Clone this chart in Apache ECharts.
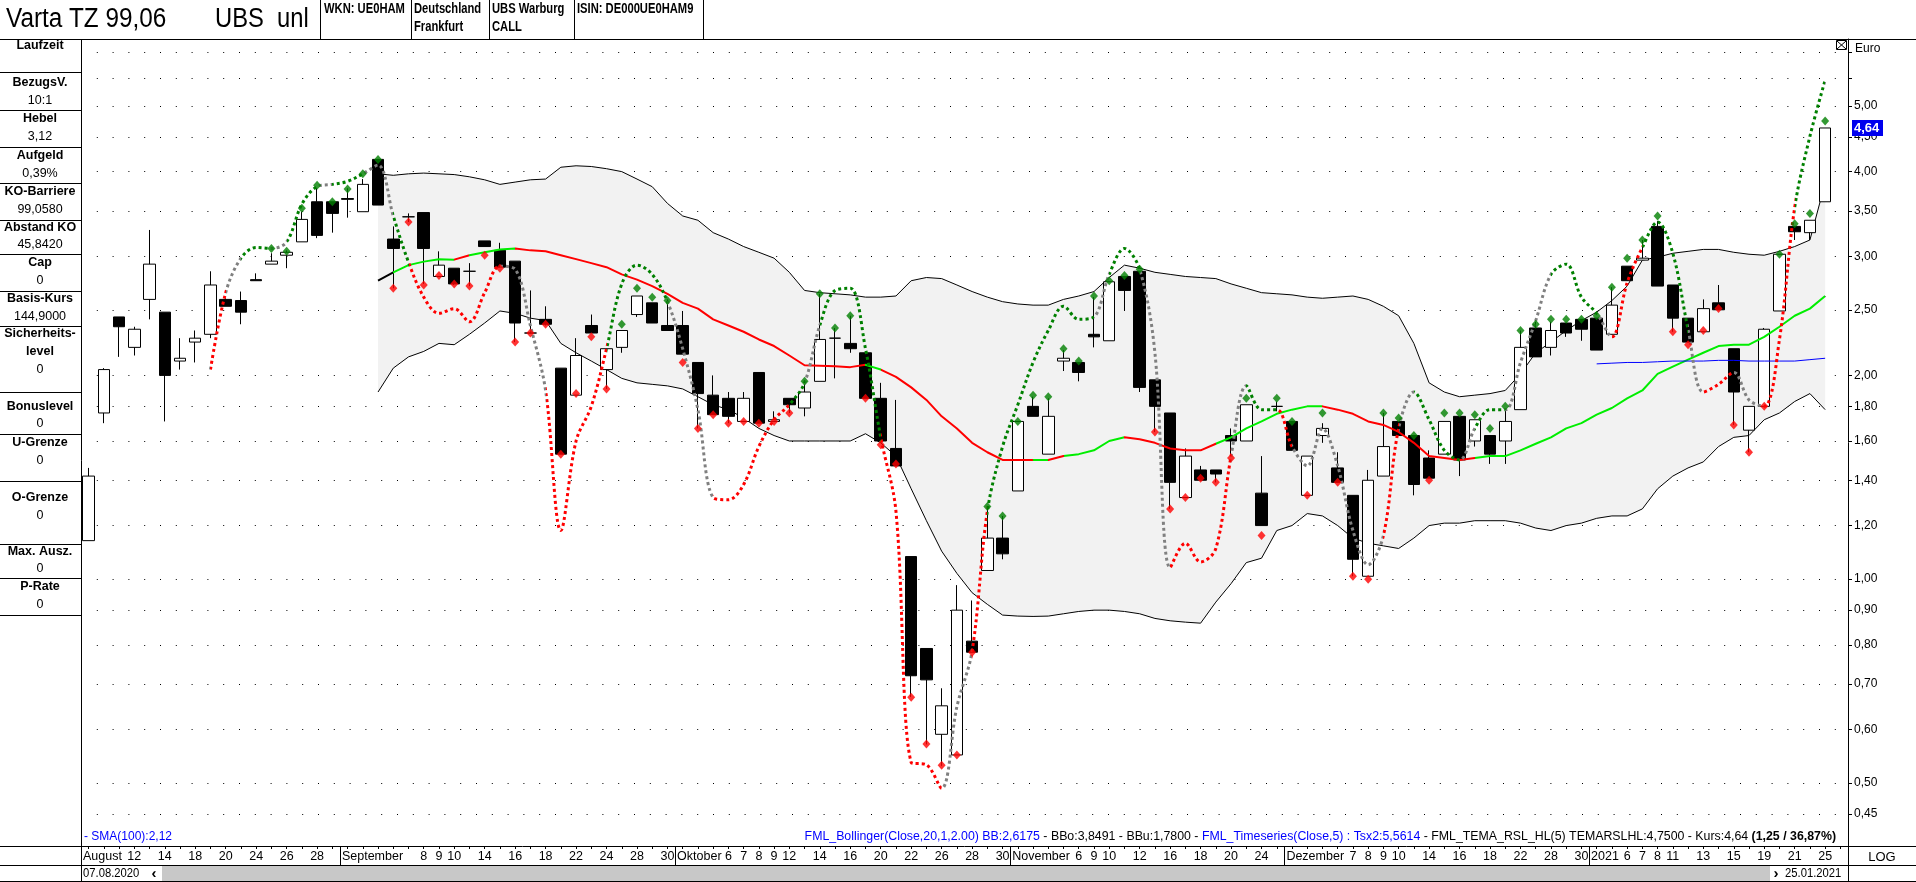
<!DOCTYPE html>
<html><head><meta charset="utf-8">
<script src="https://cdn.jsdelivr.net/npm/echarts@6/dist/echarts.min.js"></script>
<style>html,body{margin:0;padding:0;background:#fff;overflow:hidden}#c{width:1916px;height:882px}</style>
</head><body><div id="c"></div>
<script>
// ---------------- DATA ----------------
const dates = [
'2020-08-07','2020-08-10','2020-08-11','2020-08-12','2020-08-13','2020-08-14','2020-08-17','2020-08-18','2020-08-19','2020-08-20','2020-08-21','2020-08-24','2020-08-25','2020-08-26','2020-08-27','2020-08-28','2020-08-31',
'2020-09-01','2020-09-02','2020-09-03','2020-09-04','2020-09-07','2020-09-08','2020-09-09','2020-09-10','2020-09-11','2020-09-14','2020-09-15','2020-09-16','2020-09-17','2020-09-18','2020-09-21','2020-09-22','2020-09-23','2020-09-24','2020-09-25','2020-09-28','2020-09-29','2020-09-30',
'2020-10-01','2020-10-02','2020-10-05','2020-10-06','2020-10-07','2020-10-08','2020-10-09','2020-10-12','2020-10-13','2020-10-14','2020-10-15','2020-10-16','2020-10-19','2020-10-20','2020-10-21','2020-10-22','2020-10-23','2020-10-26','2020-10-27','2020-10-28','2020-10-29','2020-10-30',
'2020-11-02','2020-11-03','2020-11-04','2020-11-05','2020-11-06','2020-11-09','2020-11-10','2020-11-11','2020-11-12','2020-11-13','2020-11-16','2020-11-17','2020-11-18','2020-11-19','2020-11-20','2020-11-23','2020-11-24','2020-11-25',
'2020-12-01','2020-12-02','2020-12-03','2020-12-04','2020-12-07','2020-12-08','2020-12-09','2020-12-10','2020-12-11','2020-12-14','2020-12-15','2020-12-16','2020-12-17','2020-12-18','2020-12-21','2020-12-22','2020-12-23','2020-12-28','2020-12-29','2020-12-30',
'2021-01-04','2021-01-05','2021-01-06','2021-01-07','2021-01-08','2021-01-11','2021-01-12','2021-01-13','2021-01-14','2021-01-15','2021-01-18','2021-01-19','2021-01-20','2021-01-21','2021-01-22','2021-01-25'];

const open = [1.14,1.76,2.44,2.20,2.59,2.48,2.10,2.24,2.30,2.59,2.58,2.77,2.92,3.01,3.15,3.61,3.61,
3.65,3.49,4.17,3.18,3.43,3.48,2.80,2.88,2.85,3.16,3.06,2.95,2.31,2.42,2.05,1.87,2.37,2.04,2.20,2.46,2.56,2.37,
2.37,2.09,1.87,1.85,1.71,2.02,1.71,1.85,1.79,1.96,2.27,2.23,2.16,1.85,1.56,1.08,0.79,0.59,0.55,0.81,1.03,1.15,
1.35,1.80,1.53,2.10,2.09,2.30,2.25,2.80,2.85,1.97,1.76,1.32,1.45,1.45,1.63,1.60,1.34,1.80,
1.71,1.33,1.63,1.46,1.33,1.01,1.42,1.71,1.63,1.51,1.53,1.74,1.60,1.63,1.60,1.78,2.35,2.20,2.39,2.42,
2.43,2.30,2.90,2.96,3.32,2.72,2.43,2.32,2.56,2.19,1.66,1.80,2.49,3.32,3.25,3.61];
const close = [1.42,2.04,2.36,2.34,2.92,2.00,2.12,2.27,2.72,2.53,2.48,2.76,2.95,3.04,3.40,3.22,3.47,
3.64,3.83,3.57,3.08,3.43,3.08,2.91,2.73,2.85,3.10,2.89,2.39,2.31,2.38,1.53,2.14,2.31,2.19,2.33,2.62,2.39,2.33,
2.15,1.88,1.75,1.74,1.85,1.70,1.72,1.81,1.89,2.26,2.27,2.19,1.85,1.60,1.47,0.72,0.71,0.65,0.90,0.78,1.15,1.09,
1.71,1.74,1.74,2.12,2.02,2.28,2.75,2.67,1.92,1.80,1.39,1.52,1.40,1.43,1.60,1.81,1.20,1.80,
1.55,1.52,1.67,1.39,1.07,1.40,1.57,1.63,1.38,1.41,1.71,1.50,1.72,1.53,1.71,2.20,2.13,2.33,2.31,2.34,
2.18,2.54,2.76,2.98,2.71,2.43,2.24,2.51,2.50,1.89,1.80,2.34,3.02,3.26,3.39,4.64];
const low = [1.14,1.70,2.13,2.14,2.42,1.71,2.04,2.09,2.27,2.53,2.38,2.76,2.92,2.88,3.15,3.19,3.25,
3.42,3.49,3.57,2.69,3.37,2.73,2.80,2.72,2.71,3.10,2.89,2.24,2.31,2.37,1.53,1.87,2.31,1.91,2.16,2.44,2.39,2.33,
2.15,1.67,1.75,1.70,1.71,1.70,1.71,1.76,1.74,1.96,1.98,2.16,1.85,1.60,1.47,0.67,0.57,0.53,0.55,0.78,1.03,1.07,
1.35,1.74,1.53,2.03,1.96,2.20,2.25,2.49,1.89,1.65,1.27,1.32,1.40,1.39,1.52,1.60,1.20,1.77,
1.55,1.33,1.59,1.39,1.01,1.01,1.42,1.63,1.33,1.41,1.53,1.42,1.57,1.48,1.48,1.78,2.13,2.14,2.28,2.25,
2.18,2.30,2.76,2.96,2.71,2.32,2.24,2.32,2.50,1.69,1.54,1.80,2.49,3.17,3.17,3.61];
const high = [1.46,2.05,2.44,2.36,3.28,2.48,2.27,2.33,2.85,2.60,2.66,2.83,3.03,3.06,3.49,3.78,3.61,
3.78,3.90,4.17,3.32,3.47,3.48,3.05,2.88,2.93,3.16,3.14,2.95,2.67,2.53,2.05,2.27,2.46,2.19,2.33,2.62,2.56,2.59,
2.49,2.09,2.00,1.89,1.89,2.02,1.77,1.85,1.94,2.64,2.35,2.45,2.16,1.95,1.84,1.08,0.79,0.69,0.98,0.93,1.28,1.24,
1.71,1.86,1.85,2.18,2.09,2.61,2.75,2.80,2.85,1.97,1.76,1.56,1.47,1.45,1.67,1.81,1.52,1.83,
1.71,1.52,1.70,1.54,1.33,1.45,1.76,1.71,1.63,1.55,1.71,1.74,1.72,1.63,1.78,2.33,2.40,2.40,2.39,2.42,
2.43,2.70,2.90,3.17,3.38,2.72,2.43,2.59,2.72,2.19,1.80,2.35,3.02,3.32,3.39,4.64];

// Bollinger (20, 2) from 2020-09-03 on (index 19)
const bbStart = 19;
const bbUpper = [3.97,3.95,3.97,3.98,3.97,3.96,3.93,3.89,3.83,3.86,3.89,3.90,4.06,4.08,4.07,4.04,4.00,3.90,3.80,3.59,
3.44,3.39,3.25,3.18,3.10,3.04,2.98,2.84,2.67,2.65,2.64,2.63,2.61,2.61,2.62,2.76,2.79,2.78,2.72,2.66,2.61,2.57,
2.55,2.54,2.54,2.59,2.62,2.66,2.79,2.91,2.88,2.84,2.82,2.80,2.79,2.78,2.73,2.69,2.65,2.64,
2.63,2.61,2.60,2.61,2.62,2.59,2.53,2.45,2.23,1.95,1.89,1.86,1.87,1.88,1.90,2.01,2.16,2.24,2.33,2.41,
2.48,2.58,2.71,2.96,2.99,3.03,3.05,3.07,3.07,3.04,3.02,3.01,3.05,3.10,3.17,3.85];
const bbLower = [1.89,2.05,2.13,2.17,2.23,2.22,2.30,2.39,2.49,2.47,2.43,2.41,2.23,2.16,2.10,2.04,1.98,1.95,1.94,1.93,
1.91,1.86,1.81,1.78,1.73,1.67,1.63,1.60,1.60,1.60,1.60,1.60,1.64,1.59,1.52,1.36,1.22,1.10,1.02,0.955,0.918,0.885,
0.882,0.881,0.882,0.889,0.896,0.90,0.90,0.896,0.889,0.875,0.868,0.864,0.861,0.925,0.985,1.058,1.074,1.18,
1.20,1.25,1.24,1.20,1.15,1.13,1.12,1.11,1.15,1.20,1.21,1.21,1.22,1.22,1.22,1.21,1.19,1.18,1.20,1.21,
1.23,1.24,1.24,1.27,1.36,1.42,1.46,1.49,1.57,1.62,1.63,1.72,1.76,1.83,1.88,1.78];
const bbMid = [2.76,2.84,2.91,2.945,2.97,2.965,3.01,3.04,3.07,3.08,3.06,3.05,3.01,2.97,2.93,2.89,2.82,2.77,2.71,2.64,
2.56,2.51,2.42,2.37,2.32,2.26,2.21,2.14,2.07,2.067,2.063,2.057,2.073,2.04,1.99,1.92,1.84,1.74,1.67,1.59,1.54,1.50,
1.50,1.50,1.50,1.52,1.53,1.55,1.60,1.62,1.61,1.59,1.56,1.55,1.55,1.585,1.62,1.67,1.71,1.755,
1.78,1.80,1.80,1.78,1.755,1.71,1.69,1.65,1.59,1.52,1.51,1.50,1.51,1.52,1.52,1.55,1.585,1.62,1.67,1.70,
1.75,1.79,1.85,1.90,2.01,2.06,2.11,2.16,2.21,2.22,2.22,2.28,2.36,2.45,2.51,2.62];
// trend state of the middle line segment ending at each point (1 up, -1 down, 0 neutral)
const bbMidTrend = [0,0,1,1,1,1,-1,1,1,1,-1,-1,-1,-1,-1,-1,-1,-1,-1,-1,
-1,-1,-1,-1,-1,-1,-1,-1,-1,-1,-1,-1,-1,1,-1,-1,-1,-1,-1,-1,-1,-1,
-1,-1,1,-1,1,1,1,1,-1,-1,-1,-1,-1,-1,1,1,1,1,
1,1,1,-1,-1,-1,-1,-1,-1,-1,-1,-1,-1,1,1,1,1,1,1,1,
1,1,1,1,1,1,1,1,1,1,1,1,1,1,1,1];

// FML_Timeseries (TEMA) from 2020-08-19 on (index 8)
const temaStart = 8;
const tema = [2.04,2.65,2.98,3.09,3.08,3.15,3.58,3.80,3.83,
3.87,3.97,4.09,3.44,2.94,2.61,2.47,2.51,2.40,2.65,2.90,2.87,2.37,1.90,1.18,1.60,1.80,2.19,2.73,2.91,2.82,2.57,
2.19,1.78,1.32,1.31,1.38,1.57,1.72,1.81,1.95,2.37,2.67,2.69,2.19,1.62,1.26,0.536,0.532,0.491,0.648,0.783,1.26,1.57,
1.81,2.09,2.33,2.53,2.42,2.44,2.82,3.08,2.87,2.16,1.04,1.13,1.06,1.11,1.52,1.93,1.78,1.78,
1.57,1.47,1.67,1.47,1.18,1.05,1.16,1.67,1.89,1.72,1.55,1.50,1.67,1.78,1.78,2.09,2.41,2.82,2.92,2.61,
2.47,2.28,2.74,3.09,3.37,3.03,2.34,1.89,1.94,2.02,1.84,1.80,2.26,3.54,4.51,5.46];
const temaState = [0,-1,0,1,1,0,1,1,0,
1,1,0,0,1,-1,-1,-1,-1,-1,-1,0,0,0,-1,-1,-1,-1,1,1,1,1,
0,0,0,-1,-1,-1,-1,-1,1,0,1,1,1,1,-1,-1,-1,-1,0,0,-1,1,
1,1,1,1,1,1,0,1,1,0,0,-1,-1,-1,-1,0,1,1,
-1,0,0,0,0,0,0,-1,0,1,1,1,0,1,1,0,0,0,1,1,
1,0,-1,-1,1,1,1,0,-1,-1,0,0,-1,-1,1,1];

// TEMA_RSL_HL markers
const markUp = [null,null,null,null,null,null,null,null,null,null,null,null,3.08,3.05,3.53,3.82,3.61,
3.77,3.97,4.17,null,null,null,null,null,null,null,null,null,null,null,null,null,null,null,2.38,2.69,2.61,2.58,
null,null,null,null,null,null,null,null,1.96,2.64,2.35,2.45,null,null,null,null,null,null,null,null,1.28,1.24,
1.71,1.87,1.86,2.19,2.10,2.62,2.76,2.81,2.87,null,null,null,null,null,null,1.85,null,1.85,
1.71,null,1.76,null,null,null,1.76,1.73,1.63,null,1.76,1.76,1.75,1.67,1.80,2.33,2.38,2.42,2.42,2.42,
2.45,2.70,2.98,3.17,3.44,null,null,null,null,null,null,null,3.02,3.35,3.47,4.75];
const markDown = [null,null,null,null,null,null,null,null,null,null,null,null,null,null,null,null,null,
null,null,null,2.69,3.37,2.72,2.81,2.73,2.71,3.01,2.88,2.24,2.31,2.38,1.53,1.88,2.28,1.91,null,null,null,null,
2.09,1.67,1.75,1.70,1.71,1.70,1.71,1.76,null,null,null,null,1.85,1.58,1.48,0.669,0.571,0.531,0.55,0.78,null,null,
null,null,null,null,null,null,null,null,null,1.65,1.27,1.32,1.41,1.39,1.51,null,1.16,null,
null,1.33,null,1.39,1.01,1.00,null,null,null,1.40,null,null,null,null,null,null,null,null,null,null,
null,null,null,null,null,2.32,2.22,2.33,2.51,1.69,1.54,1.80,null,null,null,null];

// SMA(100) from 2021-01-04 (index 99)
const smaStart = 99;
const sma100 = [2.08,2.085,2.09,2.09,2.095,2.10,2.10,2.10,2.105,2.105,2.10,2.10,2.10,2.10,2.11,2.12];

// axis texts
const yTickValues = [5.00,4.50,4.00,3.50,3.00,2.50,2.00,1.80,1.60,1.40,1.20,1.00,0.90,0.80,0.70,0.60,0.50,0.45];
const yGridValues = [6.00,5.50].concat(yTickValues);
const dayLabelDates = ['2020-08-12','2020-08-14','2020-08-18','2020-08-20','2020-08-24','2020-08-26','2020-08-28',
'2020-09-08','2020-09-09','2020-09-10','2020-09-14','2020-09-16','2020-09-18','2020-09-22','2020-09-24','2020-09-28','2020-09-30',
'2020-10-06','2020-10-07','2020-10-08','2020-10-09','2020-10-12','2020-10-14','2020-10-16','2020-10-20','2020-10-22','2020-10-26','2020-10-28','2020-10-30',
'2020-11-06','2020-11-09','2020-11-10','2020-11-12','2020-11-16','2020-11-18','2020-11-20','2020-11-24',
'2020-12-07','2020-12-08','2020-12-09','2020-12-10','2020-12-14','2020-12-16','2020-12-18','2020-12-22','2020-12-28','2020-12-30',
'2021-01-06','2021-01-07','2021-01-08','2021-01-11','2021-01-13','2021-01-15','2021-01-19','2021-01-21','2021-01-25'];
const monthLabels = [['2020-08-07','August'],['2020-09-01','September'],['2020-10-01','Oktober'],['2020-11-02','November'],['2020-12-01','Dezember'],['2021-01-04','2021']];

const titleText = 'Varta TZ 99,06';
const issuerText = 'UBS  unl';
const headerCells = [['WKN: UE0HAM',''],['Deutschland','Frankfurt'],['UBS Warburg','CALL'],['ISIN: DE000UE0HAM9','']];
const infoRows = [['Laufzeit',''],['BezugsV.','10:1'],['Hebel','3,12'],['Aufgeld','0,39%'],['KO-Barriere','99,0580'],['Abstand KO','45,8420'],['Cap','0'],['Basis-Kurs','144,9000'],['Sicherheits-|level','0'],['Bonuslevel','0'],['U-Grenze','0'],['O-Grenze','0'],['Max. Ausz.','0'],['P-Rate','0']];
const legendLeft = '- SMA(100):2,12';
const legendParts = [['FML_Bollinger(Close,20,1,2.00) BB:2,6175','b'],[' - BBo:3,8491 - BBu:1,7800 - ','k'],['FML_Timeseries(Close,5) : Tsx2:5,5614','b'],[' - FML_TEMA_RSL_HL(5) TEMARSLHL:4,7500 - Kurs:4,64 ','k'],['(1,25 / 36,87%)','bd']];

// ---------------- BUILD ----------------
const SANS = '"Liberation Sans",Arial,sans-serif';
const N = dates.length;
function pad(start, arr){ const out = new Array(N).fill(null); arr.forEach((v,i)=>{ out[start+i]=v; }); return out; }

const lowerFull = pad(bbStart, bbLower);
const widthFull = pad(bbStart, bbUpper.map((u,i)=>+(u - bbLower[i]).toFixed(4)));
const midFull = pad(bbStart, bbMid);
const temaFull = pad(temaStart, tema);
const smaFull = pad(smaStart, sma100);
const candles = dates.map((d,i)=>[open[i], close[i], low[i], high[i]]);
const cats = dates.concat(['']);
const dayLabelSet = new Set(dayLabelDates);
const monthIdx = {};
monthLabels.forEach(([d,name])=>{ monthIdx[dates.indexOf(d)] = name; });
const boundaryCats = []; for (let i=0;i<=cats.length;i++) boundaryCats.push(String(i));

function buildPieces(states, start, colors){
  const out = [];
  for (let k=1;k<states.length;k++){
    const idx = start + k;
    const c = colors[String(states[k])];
    const last = out[out.length-1];
    if (last && last.color === c && last.lte === idx-1) last.lte = idx;
    else out.push({gt: idx-1, lte: idx, color: c});
  }
  return out;
}
const midPieces = buildPieces(bbMidTrend, bbStart, {'1':'#00ee00','-1':'#ff0000','0':'#000000'});
const temaPieces = buildPieces(temaState, temaStart, {'1':'#008000','-1':'#ff0000','0':'#808080'});
const fmt2 = v => v.toFixed(2).replace('.', ',');
const fmtDate = d => d.slice(8,10)+'.'+d.slice(5,7)+'.'+d.slice(0,4);

// ---------------- GRAPHIC (frame / panels) ----------------
const G = [];
function L(x1,y1,x2,y2,c){ G.push({type:'line', silent:true, z:50, shape:{x1,y1,x2,y2}, style:{stroke:c||'#000', lineWidth:1}}); }
function T(x,y,t,font,align,color,sx){ const el = {type:'text', silent:true, z:50, x, y, style:{text:t, font, fill:color||'#000', textAlign:align||'left', align:align||'left', textVerticalAlign:'middle', verticalAlign:'middle'}}; if (sx) { el.scaleX = sx; } G.push(el); return el; }

// header
L(0,39.5,1916,39.5);
T(6,20,titleText,'27px '+SANS,'left','#000',0.9);
T(215,20,issuerText,'27px '+SANS,'left','#000',0.88);
[320.5,411.5,489.5,574.5,703.5].forEach(x=>L(x,0,x,39.5));
const cellX = [324,414,492,577];
headerCells.forEach((c,i)=>{ T(cellX[i],9,c[0],'bold 14px '+SANS,'left','#000',0.8); if(c[1]) T(cellX[i],27,c[1],'bold 14px '+SANS,'left','#000',0.8); });

// left info panel
L(81.5,39.5,81.5,882);
const infoLayout = [[46,null,72],[83,101,110],[119,137,147],[156,174,183],[192,210,220],[228,245,254],[263,281,291],[299,317,326],[334,370,392],[407,424,434],[443,461,481],[498,516,544],[552,569,578],[587,605,615]];
infoRows.forEach((r,i)=>{
  const [ly, vy, lineY] = infoLayout[i];
  const parts = r[0].split('|');
  parts.forEach((p,k)=>T(40,ly+k*18,p,'bold 12.5px '+SANS,'center'));
  if (vy!==null) T(40,vy,r[1],'12.5px '+SANS,'center');
  L(0,lineY+0.5,81.5,lineY+0.5);
});

// right panel
L(1848.5,846,1848.5,882);
T(1855,49,'Euro','12px '+SANS);
G.push({type:'rect', silent:true, z:50, shape:{x:1836.5,y:40.5,width:10,height:9}, style:{fill:'#fff', stroke:'#000', lineWidth:1}});
L(1837,41,1846,49); L(1846,41,1837,49);
T(1882,857,'LOG','13px '+SANS,'center','#000');

// bottom
L(0,846.5,81.5,846.5); L(1848.5,846.5,1916,846.5);
L(0,865.5,1916,865.5);
L(0,881.5,1916,881.5);
G.push({type:'rect', silent:true, z:49, shape:{x:162,y:866,width:1608,height:15}, style:{fill:'#c8c8c8'}});
T(83,874,fmtDate(dates[0]),'12.5px '+SANS,'left','#000',0.9);
T(154,874,'\u2039','bold 15px '+SANS,'center');
T(1776,874,'\u203A','bold 15px '+SANS,'center');
T(1785,874,fmtDate(dates[N-1]),'12.5px '+SANS,'left','#000',0.9);
T(84,837,legendLeft,'12px '+SANS,'left','#0000ff');
G.push({type:'text', silent:true, z:50, x:1836, y:837, style:{
  text: legendParts.map(p=>'{'+p[1]+'|'+p[0]+'}').join(''),
  textAlign:'right', align:'right', textVerticalAlign:'middle', verticalAlign:'middle',
  rich:{ b:{fill:'#0000ff', font:'12.35px '+SANS}, k:{fill:'#000', font:'12.35px '+SANS}, bd:{fill:'#000', font:'bold 12.35px '+SANS} }
}});

// ---------------- CHART ----------------
const chart = echarts.init(document.getElementById('c'), null, {renderer:'canvas'});
chart.setOption({
  animation:false,
  backgroundColor:'#fff',
  grid:{left:81, right:68, top:39, bottom:36, containLabel:false},
  xAxis:[{
    type:'category', data:cats, boundaryGap:true, position:'bottom', offset:0,
    axisLine:{show:true, onZero:false, lineStyle:{color:'#000', width:1}},
    axisTick:{show:true, alignWithLabel:true, interval:0, length:3, lineStyle:{color:'#000'}},
    axisLabel:{show:true, interval:0, margin:4, color:'#000', fontFamily:SANS, fontSize:12.5,
      formatter:(v,i)=> (i<N && dayLabelSet.has(dates[i])) ? String(+dates[i].slice(8,10)) : ''},
    splitLine:{show:false}
  },{
    type:'category', data:boundaryCats, boundaryGap:false, position:'bottom', offset:0,
    axisLine:{show:false},
    axisTick:{show:true, interval:(i)=>monthIdx[i]!==undefined, length:19, lineStyle:{color:'#000'}},
    axisLabel:{show:true, interval:(i)=>monthIdx[i]!==undefined, align:'left', padding:[0,0,0,2], margin:4, color:'#000', fontFamily:SANS, fontSize:12.5,
      formatter:(v,i)=> monthIdx[i]||''},
    splitLine:{show:false}
  }],
  yAxis:{
    type:'log', logBase:10, min:0.4035, max:6.28, position:'right',
    axisLine:{show:true, lineStyle:{color:'#000', width:1}},
    axisTick:{show:true, length:4, customValues:yGridValues, lineStyle:{color:'#000'}},
    axisLabel:{show:true, customValues:yTickValues, margin:6, color:'#000', fontFamily:SANS, fontSize:12, formatter:fmt2},
    splitLine:{show:true, lineStyle:{color:'#000', width:1, type:[1,14.8]}}
  },
  visualMap:[
    {type:'piecewise', show:false, seriesIndex:3, dimension:0, pieces:midPieces, outOfRange:{color:'#000'}},
    {type:'piecewise', show:false, seriesIndex:5, dimension:0, pieces:temaPieces, outOfRange:{color:'#808080'}}
  ],
  series:[
    {name:'BBu', type:'line', data:lowerFull, stack:'bb', symbol:'none', z:1, lineStyle:{color:'#000', width:1}, silent:true},
    {name:'BBo', type:'line', data:widthFull, stack:'bb', symbol:'none', z:1, lineStyle:{color:'#000', width:1}, areaStyle:{color:'#f2f2f2', opacity:1}, silent:true},
    {name:'Kurs', type:'candlestick', data:candles, barWidth:12, z:3,
      itemStyle:{color:'#ffffff', color0:'#000000', borderColor:'#000000', borderColor0:'#000000', borderWidth:1}},
    {name:'BB', type:'line', data:midFull, symbol:'none', z:4, lineStyle:{width:2}},
    {name:'SMA100', type:'line', data:smaFull, symbol:'none', z:4, lineStyle:{color:'#0000ff', width:1}},
    {name:'Tsx2', type:'line', data:temaFull, symbol:'none', smooth:0.35, z:5, lineStyle:{width:3, type:[3,3]}},
    {name:'TEMA up', type:'scatter', data:markUp, symbol:'diamond', symbolSize:[8,9], z:6, itemStyle:{color:'#008000'}},
    {name:'TEMA down', type:'scatter', data:markDown, symbol:'diamond', symbolSize:[8,9], z:6, itemStyle:{color:'#ff0000'}}
  ],
  graphic:{elements:G}
});

// last price box on the right axis, placed through the y scale
const lastPx = chart.convertToPixel({yAxisIndex:0}, close[N-1]);
G.push({type:'rect', silent:true, z:60, shape:{x:1852, y:Math.round(lastPx)-8, width:31, height:16}, style:{fill:'#0000ee'}});
G.push({type:'text', silent:true, z:61, x:1854, y:Math.round(lastPx), style:{text:fmt2(close[N-1]), font:'bold 13px '+SANS, fill:'#fff', textAlign:'left', align:'left', textVerticalAlign:'middle', verticalAlign:'middle'}});
chart.setOption({graphic:{elements:G}});
</script>
</body></html>
